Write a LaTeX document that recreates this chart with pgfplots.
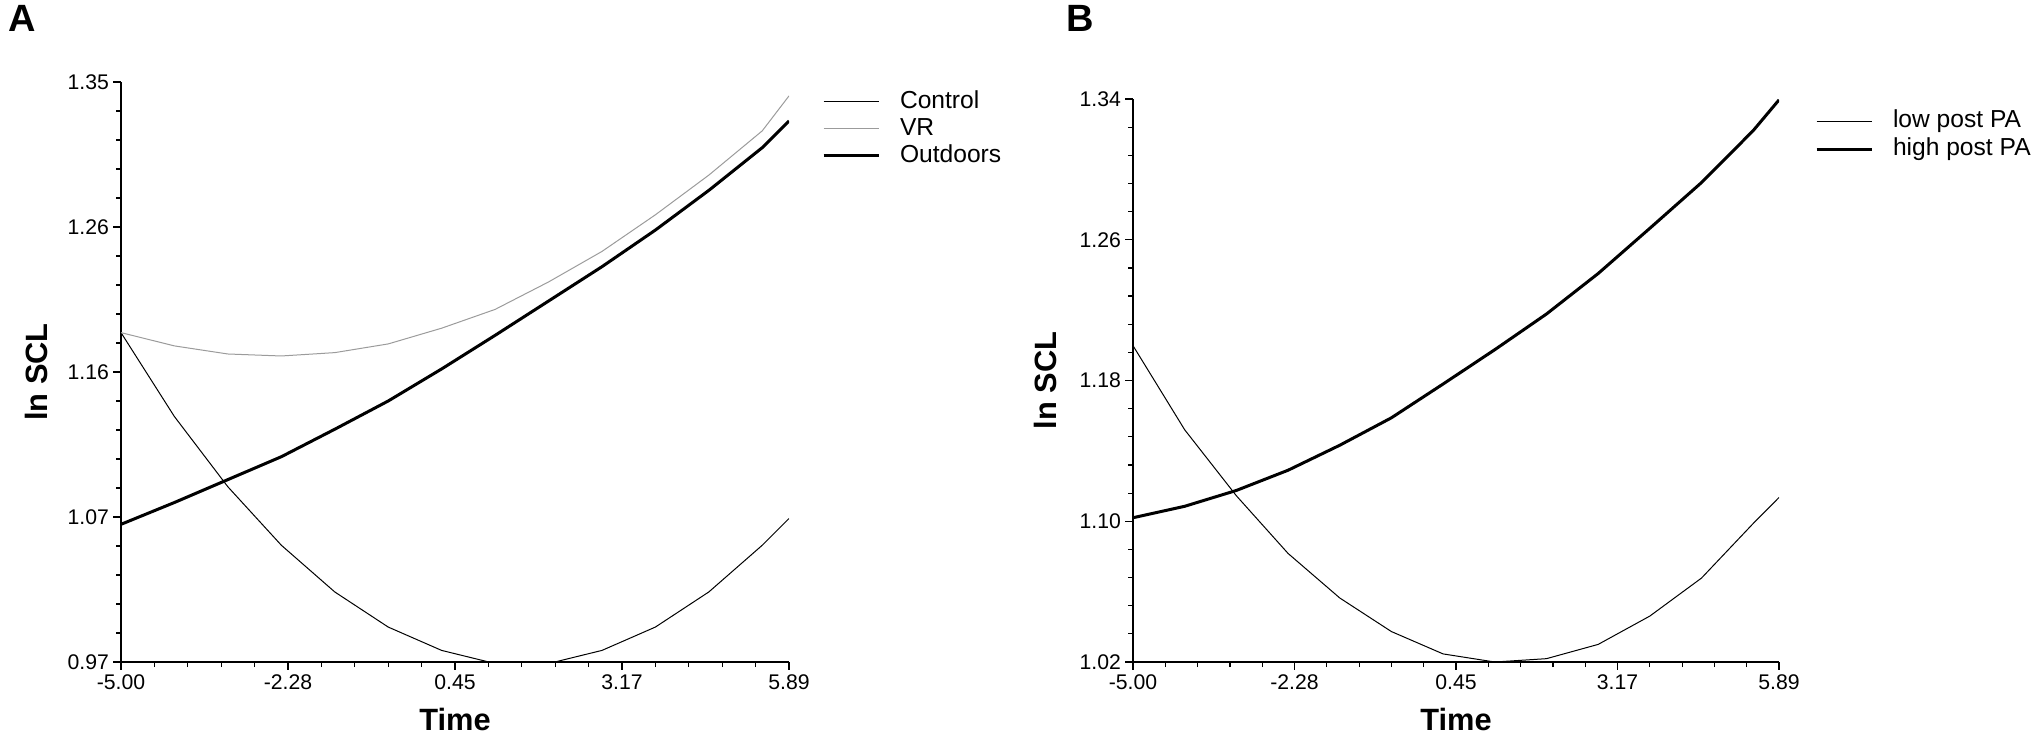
\documentclass[border=0pt]{standalone}
\usepackage{pgfplots}
\usepackage{pgfplotstable}
\pgfplotsset{compat=1.18}
\usepackage{fontspec}
\setmainfont{Liberation Sans}

\pgfplotstableread{
t      ctrl    vr      out
-5.000 1.1858  1.1858  1.0602
-4.129 1.1308  1.1771  1.0745
-3.258 1.0848  1.1718  1.0895
-2.386 1.0465  1.1705  1.1045
-1.515 1.0159  1.1727  1.1225
-0.644 0.9929  1.1784  1.1410
0.227  0.9776  1.1887  1.1620
1.098  0.9690  1.2010  1.1840
1.970  0.9690  1.2190  1.2065
2.841  0.9776  1.2390  1.2290
3.712  0.9929  1.2630  1.2530
4.583  1.0159  1.2890  1.2790
5.454  1.0465  1.3180  1.3070
5.890  1.0640  1.3409  1.3245
}\dataA

\pgfplotstableread{
t      low     high
-5.000 1.1998  1.1020
-4.129 1.1520  1.1085
-3.258 1.1145  1.1175
-2.386 1.0817  1.1290
-1.515 1.0564  1.1432
-0.644 1.0373  1.1588
0.227  1.0246  1.1780
1.098  1.0200  1.1975
1.970  1.0219  1.2178
2.841  1.0300  1.2408
3.712  1.0461  1.2665
4.583  1.0677  1.2925
5.454  1.0987  1.3220
5.890  1.1135  1.3395
}\dataB

\definecolor{vrgray}{RGB}{155,155,155}

\pgfplotsset{
  panel/.style={
    scale only axis,
    anchor=south west,
    axis x line*=bottom,
    axis y line*=left,
    axis line style={-, line width=0.6pt, black},
    tick align=outside,
    major tick length=3.85pt,
    minor tick length=2.5pt,
    tick style={black, line width=0.6pt},
    xmin=-5, xmax=5.89,
    xtick={-5,-2.2775,0.445,3.1675,5.89},
    xticklabels={-5.00,-2.28,0.45,3.17,5.89},
    minor x tick num=4,
    minor y tick num=4,
    /pgf/number format/assume math mode=true,
    ticklabel style={font=\fontsize{10.6}{12}\selectfont},
    yticklabel style={inner sep=2pt},
    xticklabel style={inner sep=2.5pt},
    xlabel={Time},
    ylabel={ln SCL},
    label style={font=\fontsize{15.4}{18}\selectfont\bfseries},
    xlabel style={at={([yshift=-34pt]axis description cs:0.5,0)}, anchor=base},
    legend cell align=left,
    legend image code/.code={\draw[#1] (0pt,0pt) -- (27.5pt,0pt);},
    legend style={draw=none, fill=none, inner sep=0pt, outer sep=0pt,
      anchor=north west, column sep=10pt,
      font=\fontsize{12.3}{14}\selectfont,
      nodes={inner sep=0pt, text height=9pt, text depth=2.6pt}},
  }
}

\begin{document}
\begin{tikzpicture}
\path[use as bounding box] (0,0) rectangle (1018.5pt,370pt);
\node[anchor=base west, inner sep=0pt, font=\fontsize{19}{22}\selectfont\bfseries] at (4pt,354pt) {A};
\node[anchor=base west, inner sep=0pt, font=\fontsize{19}{22}\selectfont\bfseries] at (533pt,354pt) {B};

\begin{axis}[panel,
  at={(60.5pt,39pt)},
  width=334pt, height=290pt,
  ymin=0.97, ymax=1.35,
  ytick={0.97,1.065,1.16,1.255,1.35},
  yticklabels={0.97,1.07,1.16,1.26,1.35},
  ylabel style={at={([xshift=-37pt]axis description cs:0,0.5)}, anchor=base},
  legend style={at={(1.0494,0.9857)}, row sep=1.9pt},
]
\addplot[black, line width=0.5pt] table[x=t, y=ctrl] {\dataA};
\addlegendentry{Control}
\addplot[vrgray, line width=0.5pt] table[x=t, y=vr] {\dataA};
\addlegendentry{VR}
\addplot[black, line width=1.5pt] table[x=t, y=out] {\dataA};
\addlegendentry{Outdoors}
\end{axis}

\begin{axis}[panel,
  at={(566.5pt,39pt)},
  width=323pt, height=281.5pt,
  ymin=1.02, ymax=1.34,
  ytick={1.02,1.10,1.18,1.26,1.34},
  yticklabels={1.02,1.10,1.18,1.26,1.34},
  ylabel style={at={([xshift=-38.5pt]axis description cs:0,0.5)}, anchor=base},
  legend style={at={(1.0557,0.9805)}, row sep=2.2pt},
]
\addplot[black, line width=0.5pt] table[x=t, y=low] {\dataB};
\addlegendentry{low post PA}
\addplot[black, line width=1.5pt] table[x=t, y=high] {\dataB};
\addlegendentry{high post PA}
\end{axis}
\end{tikzpicture}
\end{document}
